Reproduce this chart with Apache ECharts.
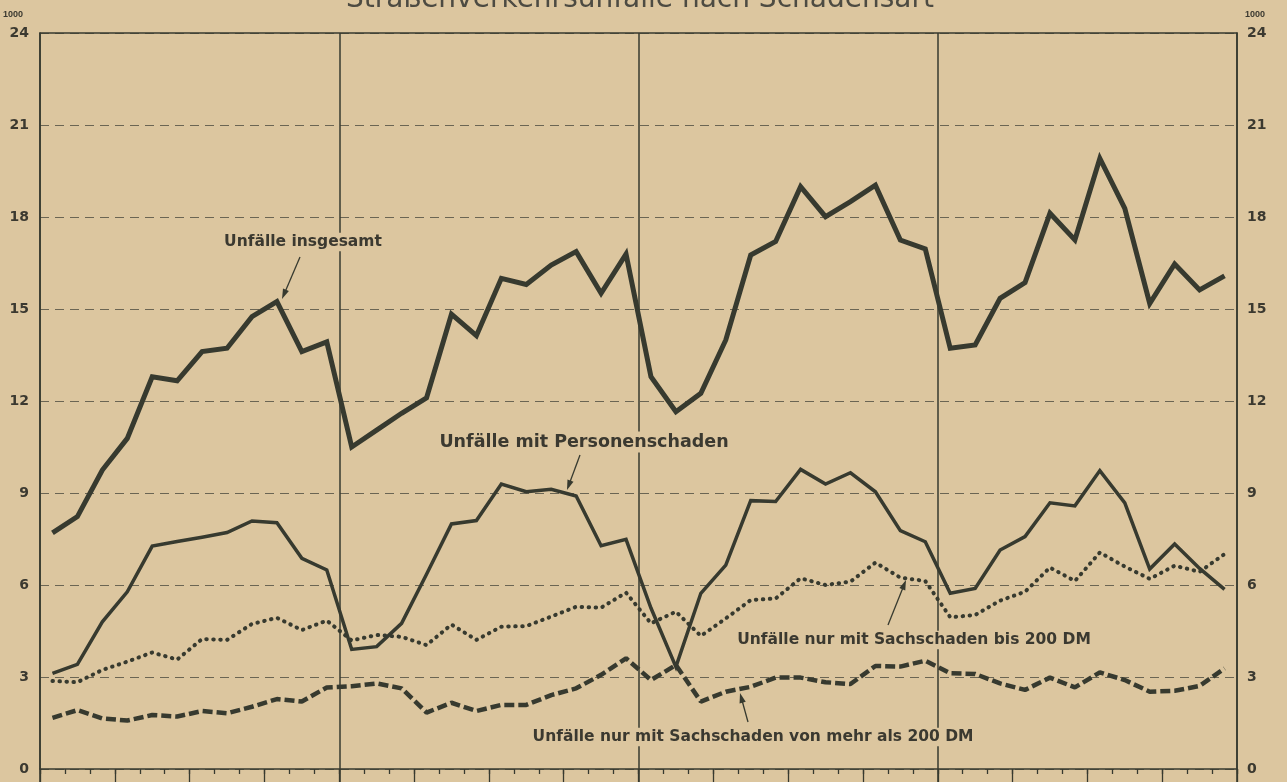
<!DOCTYPE html>
<html>
<head>
<meta charset="utf-8">
<script src="https://cdn.jsdelivr.net/npm/echarts@6/dist/echarts.min.js"></script>
<style>
html,body{margin:0;padding:0;background:#dcc69f;}
#c{width:1287px;height:782px;}
</style>
</head>
<body>
<div id="c"></div>
<script>
// ---- data (values in thousands) ----
var monthNames = ['Jan','Feb','Mär','Apr','Mai','Jun','Jul','Aug','Sep','Okt','Nov','Dez'];
var yearLabels = ['Jahr 1','Jahr 2','Jahr 3','Jahr 4'];
var quarterNames = ['I','II','III','IV'];
var yTicks = [0, 3, 6, 9, 12, 15, 18, 21, 24];

var totalAccidents = [7.70, 8.23, 9.75, 10.78, 12.79, 12.66, 13.61, 13.72, 14.75, 15.24, 13.61, 13.93,
  10.50, 11.05, 11.60, 12.10, 14.83, 14.13, 16.00, 15.80, 16.43, 16.87, 15.51, 16.79,
  12.79, 11.65, 12.25, 13.99, 16.76, 17.20, 18.99, 18.01, 18.50, 19.04, 17.25, 16.96,
  13.72, 13.83, 15.35, 15.86, 18.12, 17.25, 19.91, 18.28, 15.18, 16.47, 15.62, 16.08];

var personalInjury = [3.12, 3.41, 4.80, 5.78, 7.27, 7.42, 7.56, 7.71, 8.09, 8.03, 6.87, 6.49,
  3.90, 3.99, 4.75, 6.35, 7.99, 8.10, 9.29, 9.04, 9.12, 8.90, 7.28, 7.49,
  5.25, 3.33, 5.73, 6.65, 8.75, 8.72, 9.77, 9.29, 9.66, 9.04, 7.77, 7.41,
  5.73, 5.89, 7.14, 7.58, 8.68, 8.58, 9.73, 8.68, 6.52, 7.34, 6.54, 5.86];

var damageUpTo200 = [2.87, 2.83, 3.23, 3.50, 3.80, 3.57, 4.24, 4.21, 4.73, 4.93, 4.53, 4.84,
  4.19, 4.37, 4.31, 4.04, 4.71, 4.21, 4.64, 4.66, 4.97, 5.29, 5.26, 5.75,
  4.75, 5.13, 4.34, 4.91, 5.51, 5.56, 6.22, 6.00, 6.11, 6.73, 6.24, 6.13,
  4.95, 5.02, 5.49, 5.78, 6.57, 6.13, 7.06, 6.60, 6.20, 6.63, 6.43, 7.01];

var damageOver200 = [1.67, 1.92, 1.65, 1.58, 1.76, 1.71, 1.89, 1.82, 2.03, 2.28, 2.20, 2.66,
  2.70, 2.79, 2.63, 1.84, 2.16, 1.89, 2.09, 2.09, 2.41, 2.63, 3.07, 3.61,
  2.90, 3.39, 2.20, 2.52, 2.68, 2.98, 2.98, 2.83, 2.77, 3.36, 3.34, 3.53,
  3.12, 3.10, 2.79, 2.58, 2.98, 2.66, 3.15, 2.90, 2.52, 2.55, 2.71, 3.28];

var titleText = 'Straßenverkehrsunfälle nach Schadensart';
var unitText = '1000';
var labelTotal = 'Unfälle insgesamt';
var labelPerson = 'Unfälle mit Personenschaden';
var labelUpTo200 = 'Unfälle nur mit Sachschaden bis 200 DM';
var labelOver200 = 'Unfälle nur mit Sachschaden von mehr als 200 DM';

// ---- derived category lists ----
var months = [];
yearLabels.forEach(function(y){ monthNames.forEach(function(m){ months.push(m + ' ' + y); }); });
var quarters = [];
yearLabels.forEach(function(y){ quarterNames.forEach(function(q){ quarters.push(q + ' ' + y); }); });

// ---- styles ----
var BG = '#dcc69f';
var INK = '#373a2f';
var TXT = '#3b3930';
var FONT = '"DejaVu Sans", sans-serif';

var chart = echarts.init(document.getElementById('c'), null, {renderer: 'canvas'});

function arrow(x1, y1, x2, y2) {
  var dx = x2 - x1, dy = y2 - y1, L = Math.sqrt(dx*dx + dy*dy);
  var ux = dx / L, uy = dy / L, hl = 10, hw = 3.2;
  var bx = x2 - ux*hl, by = y2 - uy*hl;
  return [
    {type: 'line', z: 110, shape: {x1: x1, y1: y1, x2: bx + ux*2, y2: by + uy*2}, style: {stroke: INK, lineWidth: 1.3}},
    {type: 'polygon', z: 110, shape: {points: [[x2, y2], [bx - uy*hw, by + ux*hw], [bx + uy*hw, by - ux*hw]]}, style: {fill: INK}}
  ];
}

function label(text, cx, cy, size, weight, w) {
  return [
    {type: 'rect', z: 105, shape: {x: cx - w/2 - 3, y: cy - size*0.6, width: w + 6, height: size*1.2}, style: {fill: BG}},
    {type: 'text', z: 106, style: {text: text, x: cx, y: cy, align: 'center', verticalAlign: 'middle',
      font: weight + ' ' + size + 'px ' + FONT, fill: TXT}}
  ];
}

var graphics = [];
graphics.push({type: 'text', z: 100, style: {text: titleText, x: 640, y: 14, align: 'center', verticalAlign: 'bottom',
  font: 'normal 28px ' + FONT, fill: '#4d4b42'}});
graphics.push({type: 'text', z: 100, style: {text: unitText, x: 23, y: 15, align: 'right', verticalAlign: 'middle',
  font: 'bold 9px "Liberation Sans Narrow", "Liberation Sans", sans-serif', fill: TXT}});
graphics.push({type: 'text', z: 100, style: {text: unitText, x: 1245, y: 15, align: 'left', verticalAlign: 'middle',
  font: 'bold 9px "Liberation Sans Narrow", "Liberation Sans", sans-serif', fill: TXT}});
graphics = graphics.concat(label(labelTotal, 303, 242, 15.5, 'bold', 151));
graphics = graphics.concat(label(labelPerson, 584, 442, 17.5, 'bold', 287));
graphics = graphics.concat(label(labelUpTo200, 914, 640, 15.5, 'bold', 342));
graphics = graphics.concat(label(labelOver200, 753, 737, 15.5, 'bold', 428));
graphics = graphics.concat(arrow(300, 257, 282, 299));
graphics = graphics.concat(arrow(580, 455, 567, 490));
graphics = graphics.concat(arrow(888, 625, 906, 580));
graphics = graphics.concat(arrow(748, 722, 740, 693));

var grid = {left: 40, right: 50, top: 33, bottom: 13};

var option = {
  backgroundColor: BG,
  animation: false,
  grid: grid,
  xAxis: [
    {type: 'category', data: months, boundaryGap: true, position: 'bottom',
      axisLine: {show: true, lineStyle: {color: INK, width: 1.6}},
      axisTick: {show: true, interval: 0, length: 5, lineStyle: {color: INK, width: 1.3}},
      axisLabel: {show: false}, splitLine: {show: false}},
    {type: 'category', data: quarters, boundaryGap: true, position: 'bottom',
      axisLine: {show: false},
      axisTick: {show: true, interval: 0, length: 16, lineStyle: {color: INK, width: 1.3}},
      axisLabel: {show: false}, splitLine: {show: false}},
    {type: 'category', data: yearLabels, boundaryGap: true, position: 'bottom',
      axisLine: {show: false},
      axisTick: {show: true, interval: 0, length: 16, lineStyle: {color: INK, width: 1.6}},
      axisLabel: {show: false},
      splitLine: {show: true, interval: 0, lineStyle: {color: INK, width: 1.5, type: 'solid'}}},
    {type: 'category', data: yearLabels, boundaryGap: true, position: 'top',
      axisLine: {show: true, lineStyle: {color: INK, width: 1.6}},
      axisTick: {show: false}, axisLabel: {show: false}, splitLine: {show: false}}
  ],
  yAxis: [
    {type: 'value', min: 0, max: 24, interval: 3, position: 'left',
      axisLine: {show: true, lineStyle: {color: INK, width: 1.6}},
      axisTick: {show: false},
      axisLabel: {show: true, margin: 11, color: TXT, fontSize: 14, fontWeight: 'bold', fontFamily: FONT},
      splitLine: {show: true, lineStyle: {color: '#6b6553', width: 1.1, type: [9, 6]}}},
    {type: 'value', min: 0, max: 24, interval: 3, position: 'right',
      axisLine: {show: true, lineStyle: {color: INK, width: 1.6}},
      axisTick: {show: false},
      axisLabel: {show: true, margin: 10, color: TXT, fontSize: 14, fontWeight: 'bold', fontFamily: FONT},
      splitLine: {show: false}}
  ],
  series: [
    {name: labelTotal, type: 'line', data: totalAccidents, xAxisIndex: 0, yAxisIndex: 0, symbol: 'none', z: 5,
      lineStyle: {color: INK, width: 5, join: 'miter'}},
    {name: labelPerson, type: 'line', data: personalInjury, xAxisIndex: 0, yAxisIndex: 0, symbol: 'none', z: 5,
      lineStyle: {color: INK, width: 3.5, join: 'miter'}},
    {name: labelUpTo200, type: 'line', data: damageUpTo200, xAxisIndex: 0, yAxisIndex: 0, symbol: 'none', z: 5,
      lineStyle: {color: INK, width: 4, type: [0.5, 6.5], cap: 'round'}},
    {name: labelOver200, type: 'line', data: damageOver200, xAxisIndex: 0, yAxisIndex: 0, symbol: 'none', z: 5,
      lineStyle: {color: INK, width: 4.5, type: [10, 4]}}
  ],
  graphic: graphics
};
chart.setOption(option);
</script>
</body>
</html>
